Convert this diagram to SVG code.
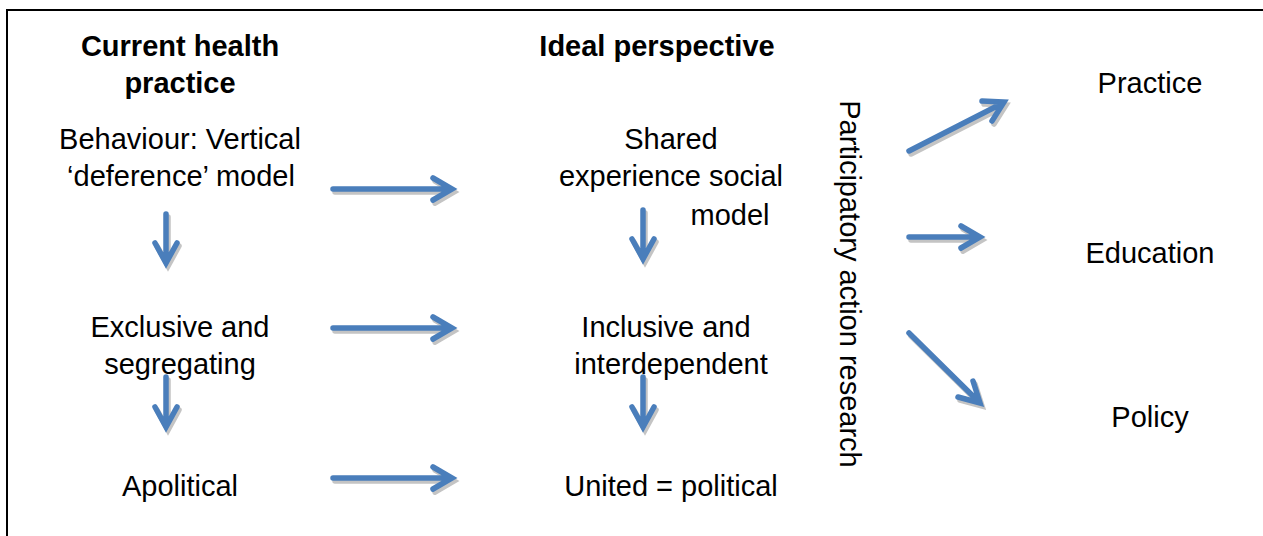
<svg xmlns="http://www.w3.org/2000/svg" width="1263" height="536" viewBox="0 0 1263 536">
<style>
text{font-family:"Liberation Sans",Arial,sans-serif;font-size:29px;fill:#000}
.b{font-weight:bold}
.m{text-anchor:middle}
.arr{fill:none;stroke:#4A7EBB;stroke-width:5.5;stroke-linecap:round;stroke-linejoin:miter}
.sh{fill:none;stroke:#C4C4C4;stroke-width:5.5;stroke-linecap:round;stroke-linejoin:miter}
</style>
<defs>
<path id="h" d="M333,0 H449 M433,-11 L452,0 L433,11"/>
<path id="v" d="M0,214 V260 M-11,243 L0,263 L11,243"/>
<path id="v2" d="M0,377 V424 M-11,407 L0,427 L11,407"/>
<path id="d1" d="M909,151 L1001,104 M982,101 L1004,102 L992,121"/>
<path id="d2" d="M909,237 H977 M961,226 L980,237 L961,248"/>
<path id="d3" d="M909,333 L977,400 M958,397 L980,403 L973,381"/>
</defs>
<path d="M7,536 V10 H1263" fill="none" stroke="#000" stroke-width="2"/>
<g id="connectors">
<use href="#h" class="sh" transform="translate(2,192)"/>
<use href="#h" class="arr" transform="translate(0,189)"/>
<use href="#h" class="sh" transform="translate(2,331)"/>
<use href="#h" class="arr" transform="translate(0,328)"/>
<use href="#h" class="sh" transform="translate(2,481)"/>
<use href="#h" class="arr" transform="translate(0,478)"/>
<use href="#v" class="sh" transform="translate(168,3)"/>
<use href="#v" class="arr" transform="translate(166,0)"/>
<use href="#v2" class="sh" transform="translate(168,3)"/>
<use href="#v2" class="arr" transform="translate(166,0)"/>
<use href="#v" class="sh" transform="translate(645,-1)"/>
<use href="#v" class="arr" transform="translate(643,-4)"/>
<use href="#v2" class="sh" transform="translate(645,3)"/>
<use href="#v2" class="arr" transform="translate(643,0)"/>
<use href="#d1" class="sh" transform="translate(2,3)"/>
<use href="#d1" class="arr"/>
<use href="#d2" class="sh" transform="translate(2,3)"/>
<use href="#d2" class="arr"/>
<use href="#d3" class="sh" transform="translate(2,3)"/>
<use href="#d3" class="arr"/>
</g>
<g id="current">
<text class="b m" x="180" y="56">Current health</text>
<text class="b m" x="180" y="93">practice</text>
</g>
<g id="behaviour">
<text class="m" x="180" y="149">Behaviour: Vertical</text>
<text class="m" x="181" y="186">‘deference’ model</text>
</g>
<g id="exclusive">
<text class="m" x="180" y="337">Exclusive and</text>
<text class="m" x="180" y="374">segregating</text>
</g>
<g id="apolitical"><text class="m" x="180" y="496">Apolitical</text></g>
<g id="ideal"><text class="b m" x="657" y="56">Ideal perspective</text></g>
<g id="shared">
<text class="m" x="671" y="149">Shared</text>
<text class="m" x="671" y="186">experience social</text>
<text class="m" x="730" y="225">model</text>
</g>
<g id="inclusive">
<text class="m" x="666" y="337">Inclusive and</text>
<text class="m" x="671" y="374">interdependent</text>
</g>
<g id="united"><text class="m" x="671" y="496">United = political</text></g>
<g id="par"><text class="m" transform="translate(840,284) rotate(90)">Participatory action research</text></g>
<g id="practice"><text class="m" x="1150" y="93">Practice</text></g>
<g id="education"><text class="m" x="1150" y="263">Education</text></g>
<g id="policy"><text class="m" x="1150" y="427">Policy</text></g>
</svg>
